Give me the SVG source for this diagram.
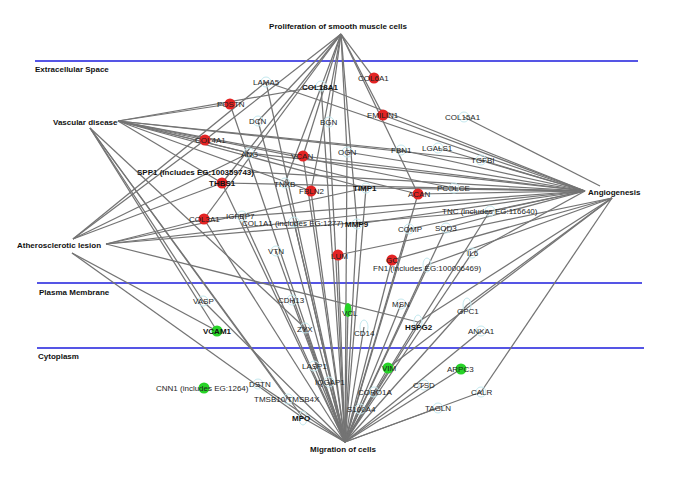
<svg xmlns="http://www.w3.org/2000/svg" width="685" height="479" viewBox="0 0 685 479">
<style>
.e line{stroke:#747474;stroke-width:1.25}
.b{stroke:#1c1cdc;stroke-width:1.6}
text{font-family:"Liberation Sans",Arial,sans-serif;font-size:8px;fill:#1e1e1e}
.bd{font-weight:bold;fill:#111}
.r{fill:#e32424}
.g{fill:#27d327}
.o{fill:none;stroke:#c4e9ef;stroke-width:1}
</style>
<rect width="685" height="479" fill="#fff"/>
<g id="compartments">
<line class="b" x1="35" y1="61" x2="638" y2="61"/>
<line class="b" x1="37" y1="283" x2="642" y2="283"/>
<line class="b" x1="37" y1="348" x2="644" y2="348"/>
<text class="bd" x="35" y="72">Extracellular Space</text>
<text class="bd" x="39" y="295">Plasma Membrane</text>
<text class="bd" x="38" y="359">Cytoplasm</text>
</g>
<g id="connectors" class="e">
<line x1="341" y1="34" x2="205" y2="140"/>
<line x1="341" y1="34" x2="222" y2="183"/>
<line x1="341" y1="34" x2="204" y2="219"/>
<line x1="341" y1="34" x2="258" y2="121"/>
<line x1="341" y1="34" x2="329" y2="122"/>
<line x1="341" y1="34" x2="285" y2="183"/>
<line x1="341" y1="34" x2="311" y2="191"/>
<line x1="341" y1="34" x2="347" y2="152"/>
<line x1="341" y1="34" x2="357" y2="224"/>
<line x1="341" y1="34" x2="374" y2="78"/>
<line x1="341" y1="34" x2="383" y2="115"/>
<line x1="341" y1="34" x2="418" y2="194"/>
<line x1="341" y1="34" x2="303" y2="156"/>
<line x1="118" y1="121" x2="230" y2="104"/>
<line x1="118" y1="121" x2="321" y2="86"/>
<line x1="118" y1="121" x2="205" y2="140"/>
<line x1="118" y1="121" x2="249" y2="153"/>
<line x1="118" y1="121" x2="303" y2="156"/>
<line x1="118" y1="121" x2="401" y2="150"/>
<line x1="118" y1="121" x2="481" y2="160"/>
<line x1="118" y1="121" x2="222" y2="183"/>
<line x1="118" y1="121" x2="311" y2="191"/>
<line x1="118" y1="121" x2="366" y2="188"/>
<line x1="118" y1="121" x2="418" y2="194"/>
<line x1="118" y1="121" x2="454" y2="188"/>
<line x1="90" y1="128" x2="217" y2="331"/>
<line x1="90" y1="128" x2="303" y2="418"/>
<line x1="90" y1="128" x2="288" y2="399"/>
<line x1="90" y1="128" x2="305" y2="328"/>
<line x1="90" y1="128" x2="203" y2="301"/>
<line x1="600" y1="186" x2="464" y2="117"/>
<line x1="585" y1="191" x2="266" y2="82"/>
<line x1="585" y1="191" x2="383" y2="115"/>
<line x1="585" y1="191" x2="438" y2="148"/>
<line x1="585" y1="191" x2="401" y2="150"/>
<line x1="585" y1="191" x2="481" y2="160"/>
<line x1="585" y1="191" x2="321" y2="86"/>
<line x1="585" y1="191" x2="347" y2="152"/>
<line x1="585" y1="191" x2="249" y2="153"/>
<line x1="585" y1="191" x2="303" y2="156"/>
<line x1="585" y1="191" x2="250" y2="172"/>
<line x1="585" y1="191" x2="222" y2="183"/>
<line x1="585" y1="191" x2="366" y2="188"/>
<line x1="585" y1="191" x2="454" y2="188"/>
<line x1="585" y1="191" x2="418" y2="194"/>
<line x1="585" y1="191" x2="490" y2="211"/>
<line x1="585" y1="191" x2="294" y2="222"/>
<line x1="585" y1="191" x2="357" y2="224"/>
<line x1="585" y1="191" x2="409" y2="229"/>
<line x1="585" y1="191" x2="446" y2="228"/>
<line x1="585" y1="191" x2="472" y2="253"/>
<line x1="585" y1="191" x2="204" y2="219"/>
<line x1="612" y1="198" x2="427" y2="265"/>
<line x1="612" y1="198" x2="392" y2="260"/>
<line x1="612" y1="198" x2="467" y2="305"/>
<line x1="612" y1="198" x2="388" y2="368"/>
<line x1="612" y1="198" x2="418" y2="322"/>
<line x1="612" y1="198" x2="481" y2="392"/>
<line x1="612" y1="198" x2="338" y2="255"/>
<line x1="73" y1="239" x2="205" y2="140"/>
<line x1="73" y1="239" x2="249" y2="153"/>
<line x1="73" y1="239" x2="222" y2="183"/>
<line x1="73" y1="239" x2="266" y2="82"/>
<line x1="106" y1="244" x2="204" y2="219"/>
<line x1="106" y1="244" x2="294" y2="222"/>
<line x1="106" y1="244" x2="366" y2="188"/>
<line x1="106" y1="244" x2="490" y2="211"/>
<line x1="106" y1="244" x2="418" y2="322"/>
<line x1="72" y1="253" x2="217" y2="331"/>
<line x1="72" y1="253" x2="303" y2="418"/>
<line x1="345" y1="442" x2="276" y2="251"/>
<line x1="345" y1="442" x2="338" y2="255"/>
<line x1="345" y1="442" x2="294" y2="222"/>
<line x1="345" y1="442" x2="357" y2="224"/>
<line x1="345" y1="442" x2="366" y2="188"/>
<line x1="345" y1="442" x2="311" y2="191"/>
<line x1="345" y1="442" x2="303" y2="156"/>
<line x1="345" y1="442" x2="222" y2="183"/>
<line x1="345" y1="442" x2="204" y2="219"/>
<line x1="345" y1="442" x2="242" y2="216"/>
<line x1="345" y1="442" x2="285" y2="183"/>
<line x1="345" y1="442" x2="329" y2="122"/>
<line x1="345" y1="442" x2="347" y2="152"/>
<line x1="345" y1="442" x2="258" y2="121"/>
<line x1="345" y1="442" x2="230" y2="104"/>
<line x1="345" y1="442" x2="266" y2="82"/>
<line x1="345" y1="442" x2="321" y2="86"/>
<line x1="345" y1="442" x2="418" y2="194"/>
<line x1="345" y1="442" x2="409" y2="229"/>
<line x1="345" y1="442" x2="427" y2="265"/>
<line x1="345" y1="442" x2="490" y2="211"/>
<line x1="345" y1="442" x2="446" y2="228"/>
<line x1="345" y1="442" x2="472" y2="253"/>
<line x1="345" y1="442" x2="392" y2="260"/>
<line x1="345" y1="442" x2="203" y2="301"/>
<line x1="345" y1="442" x2="292" y2="300"/>
<line x1="345" y1="442" x2="348" y2="310"/>
<line x1="345" y1="442" x2="401" y2="304"/>
<line x1="345" y1="442" x2="418" y2="322"/>
<line x1="345" y1="442" x2="305" y2="328"/>
<line x1="345" y1="442" x2="364" y2="327"/>
<line x1="345" y1="442" x2="467" y2="305"/>
<line x1="345" y1="442" x2="481" y2="331"/>
<line x1="345" y1="442" x2="314" y2="366"/>
<line x1="345" y1="442" x2="388" y2="368"/>
<line x1="345" y1="442" x2="329" y2="382"/>
<line x1="345" y1="442" x2="374" y2="392"/>
<line x1="345" y1="442" x2="360" y2="409"/>
<line x1="345" y1="442" x2="424" y2="385"/>
<line x1="345" y1="442" x2="481" y2="392"/>
<line x1="345" y1="442" x2="438" y2="408"/>
<line x1="345" y1="442" x2="288" y2="399"/>
<line x1="345" y1="442" x2="303" y2="418"/>
<line x1="345" y1="442" x2="258" y2="384"/>
<line x1="345" y1="442" x2="461" y2="369"/>
</g>
<g id="hubs">
<g id="n-prolif"><text class="bd" x="338" y="29" text-anchor="middle">Proliferation of smooth muscle cells</text></g>
<g id="n-vascular"><text class="bd" x="53" y="125">Vascular disease</text></g>
<g id="n-angio"><text class="bd" x="588" y="195">Angiogenesis</text></g>
<g id="n-athero"><text class="bd" x="17" y="248">Atherosclerotic lesion</text></g>
<g id="n-migration"><text class="bd" x="343" y="452" text-anchor="middle">Migration of cells</text></g>
</g>
<g id="genes">
<g id="n-LAMA5"><circle class="o" cx="266" cy="82" r="5"/><text x="253" y="85">LAMA5</text></g>
<g id="n-COL18A1"><circle class="o" cx="321" cy="86" r="5"/><text class="bd" x="302" y="90">COL18A1</text></g>
<g id="n-COL6A1"><circle class="r" cx="374" cy="78" r="5.5"/><text x="358" y="81">COL6A1</text></g>
<g id="n-POSTN"><circle class="r" cx="230" cy="104" r="5.5"/><text x="217" y="107">POSTN</text></g>
<g id="n-DCN"><circle class="o" cx="258" cy="121" r="5"/><text x="249" y="124">DCN</text></g>
<g id="n-BGN"><circle class="o" cx="329" cy="122" r="5"/><text x="320" y="125">BGN</text></g>
<g id="n-EMILIN1"><circle class="r" cx="383" cy="115" r="5.5"/><text x="367" y="118">EMILIN1</text></g>
<g id="n-COL15A1"><circle class="o" cx="464" cy="117" r="5"/><text x="445" y="120">COL15A1</text></g>
<g id="n-COL4A1"><circle class="r" cx="205" cy="140" r="5.5"/><text x="195" y="143">COL4A1</text></g>
<g id="n-ANG"><circle class="o" cx="249" cy="153" r="5"/><text x="241" y="157">ANG</text></g>
<g id="n-VCAN"><circle class="r" cx="303" cy="156" r="5.5"/><text x="291" y="159">VCAN</text></g>
<g id="n-OGN"><circle class="o" cx="347" cy="152" r="5"/><text x="338" y="155">OGN</text></g>
<g id="n-FBN1"><circle class="o" cx="401" cy="150" r="5"/><text x="391" y="153">FBN1</text></g>
<g id="n-LGALS1"><circle class="o" cx="438" cy="148" r="5"/><text x="422" y="151">LGALS1</text></g>
<g id="n-TGFBI"><circle class="o" cx="481" cy="160" r="5"/><text x="471" y="163">TGFBI</text></g>
<g id="n-SPP1"><text class="bd" x="137" y="175">SPP1 (includes EG:100359743)</text></g>
<g id="n-THBS1"><circle class="r" cx="222" cy="183" r="5.5"/><text class="bd" x="209" y="186">THBS1</text></g>
<g id="n-TNXB"><circle class="o" cx="285" cy="183" r="5"/><text x="274" y="187">TNXB</text></g>
<g id="n-FBLN2"><circle class="r" cx="311" cy="191" r="5.5"/><text x="299" y="194">FBLN2</text></g>
<g id="n-TIMP1"><circle class="o" cx="366" cy="188" r="5"/><text class="bd" x="353" y="191">TIMP1</text></g>
<g id="n-ACAN"><circle class="r" cx="418" cy="194" r="5.5"/><text x="408" y="197">ACAN</text></g>
<g id="n-PCOLCE"><circle class="o" cx="454" cy="188" r="5"/><text x="437" y="191">PCOLCE</text></g>
<g id="n-TNC"><circle class="o" cx="490" cy="211" r="5"/><text x="442" y="214">TNC (includes EG:116640)</text></g>
<g id="n-COL3A1"><circle class="r" cx="204" cy="219" r="5.5"/><text x="189" y="222">COL3A1</text></g>
<g id="n-IGFBP7"><circle class="o" cx="242" cy="216" r="5"/><text x="226" y="219">IGFBP7</text></g>
<g id="n-COL1A1"><circle class="o" cx="294" cy="222" r="5"/><text x="242" y="226">COL1A1 (includes EG:1277)</text></g>
<g id="n-MMP9"><circle class="o" cx="357" cy="224" r="5"/><text class="bd" x="345" y="227">MMP9</text></g>
<g id="n-COMP"><circle class="o" cx="409" cy="229" r="5"/><text x="398" y="232">COMP</text></g>
<g id="n-SOD3"><circle class="o" cx="446" cy="228" r="5"/><text x="435" y="231">SOD3</text></g>
<g id="n-IL6"><circle class="o" cx="472" cy="253" r="5"/><text x="467" y="256">IL6</text></g>
<g id="n-VTN"><circle class="o" cx="276" cy="251" r="5"/><text x="268" y="254">VTN</text></g>
<g id="n-LUM"><circle class="r" cx="338" cy="255" r="5.5"/><text x="331" y="259">LUM</text></g>
<g id="n-GC"><circle class="r" cx="392" cy="260" r="5.5"/><text x="386" y="263">GC</text></g>
<g id="n-FN1"><ellipse class="o" cx="427" cy="265" rx="4" ry="7"/><text x="373" y="271">FN1 (includes EG:100006469)</text></g>
<g id="n-VASP"><circle class="o" cx="203" cy="301" r="5"/><text x="193" y="304">VASP</text></g>
<g id="n-CDH13"><circle class="o" cx="292" cy="300" r="5"/><text x="278" y="303">CDH13</text></g>
<g id="n-VCL"><ellipse class="g" cx="348" cy="310" rx="3.5" ry="7"/><text x="342" y="316">VCL</text></g>
<g id="n-MSN"><circle class="o" cx="401" cy="304" r="5"/><text x="392" y="307">MSN</text></g>
<g id="n-HSPG2"><ellipse class="o" cx="418" cy="322" rx="4" ry="7"/><text class="bd" x="405" y="330">HSPG2</text></g>
<g id="n-ZYX"><circle class="o" cx="305" cy="328" r="5"/><text x="297" y="332">ZYX</text></g>
<g id="n-CD14"><ellipse class="o" cx="364" cy="327" rx="4" ry="7"/><text x="354" y="336">CD14</text></g>
<g id="n-VCAM1"><circle class="g" cx="217" cy="331" r="5.5"/><text class="bd" x="203" y="334">VCAM1</text></g>
<g id="n-GPC1"><ellipse class="o" cx="467" cy="305" rx="4" ry="7"/><text x="457" y="314">GPC1</text></g>
<g id="n-ANXA1"><circle class="o" cx="481" cy="331" r="5"/><text x="468" y="334">ANXA1</text></g>
<g id="n-LASP1"><circle class="o" cx="314" cy="366" r="5"/><text x="302" y="369">LASP1</text></g>
<g id="n-VIM"><circle class="g" cx="388" cy="368" r="5.5"/><text x="382" y="371">VIM</text></g>
<g id="n-ARPC3"><circle class="g" cx="461" cy="369" r="5.5"/><text x="447" y="372">ARPC3</text></g>
<g id="n-CNN1"><circle class="g" cx="204" cy="388" r="5.5"/><text x="156" y="391">CNN1 (includes EG:1264)</text></g>
<g id="n-DSTN"><circle class="o" cx="258" cy="384" r="5"/><text x="249" y="387">DSTN</text></g>
<g id="n-IQGAP1"><circle class="o" cx="329" cy="382" r="5"/><text x="315" y="385">IQGAP1</text></g>
<g id="n-CORO1A"><circle class="o" cx="374" cy="392" r="5"/><text x="358" y="395">CORO1A</text></g>
<g id="n-CTSD"><circle class="o" cx="424" cy="385" r="5"/><text x="413" y="388">CTSD</text></g>
<g id="n-CALR"><circle class="o" cx="481" cy="392" r="5"/><text x="471" y="395">CALR</text></g>
<g id="n-TMSB10"><circle class="o" cx="288" cy="399" r="5"/><text x="254" y="402">TMSB10/TMSB4X</text></g>
<g id="n-S100A4"><circle class="o" cx="360" cy="409" r="5"/><text x="347" y="412">S100A4</text></g>
<g id="n-TAGLN"><circle class="o" cx="438" cy="408" r="5"/><text x="425" y="411">TAGLN</text></g>
<g id="n-MPO"><ellipse class="o" cx="303" cy="418" rx="4" ry="7"/><text class="bd" x="292" y="421">MPO</text></g>
</g>
</svg>
